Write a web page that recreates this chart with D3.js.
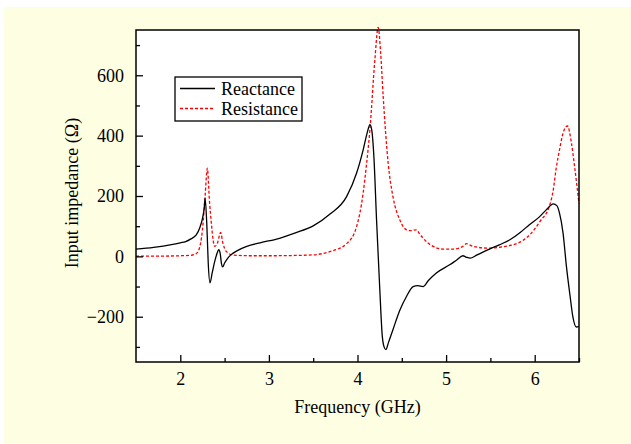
<!DOCTYPE html>
<html><head><meta charset="utf-8">
<script src="https://cdn.jsdelivr.net/npm/d3@7"></script>
<style>
html,body{margin:0;padding:0;background:#fff;}
svg{display:block;font-family:"Liberation Serif","Times New Roman",serif;}
</style></head>
<body><svg id="c" width="631" height="444"></svg>
<script>
// Reactance (black, solid): [frequency GHz, ohms]
const reactanceFreq = [1.5,1.7,1.9,2.0,2.06,2.12,2.18,2.22,2.25,2.27,2.28,2.30,2.315,2.335,2.36,2.39,2.415,2.433,2.45,2.465,2.478,2.50,2.53,2.57,2.65,2.75,2.9,3.12,3.3,3.5,3.69,3.877,3.99,4.064,4.11,4.14,4.16,4.185,4.215,4.25,4.28,4.30,4.32,4.35,4.40,4.48,4.553,4.628,4.68,4.74,4.80,4.89,5.04,5.12,5.19,5.23,5.27,5.35,5.49,5.60,5.72,5.84,5.94,6.05,6.13,6.21,6.25,6.28,6.32,6.358,6.40,6.43,6.47,6.5];
const reactanceVal  = [24,30,39,45,49,58,71,95,125,160,193,100,-20,-88,-55,-15,10,22,10,-25,-35,-22,-8,5,20,33,45,60,78,101,140,198,276,353,410,436,420,330,121,-100,-265,-300,-309,-285,-243,-177,-133,-100,-97,-100,-80,-55,-28,-12,2,-3,-6,5,24,38,55,80,105,130,154,174,168,143,77,-33,-133,-199,-234,-232];
// Resistance (red, dashed)
const resistanceFreq = [1.5,1.8,2.0,2.1,2.18,2.21,2.25,2.28,2.305,2.33,2.354,2.37,2.39,2.42,2.455,2.48,2.52,2.6,2.8,3.0,3.3,3.5,3.69,3.877,3.99,4.064,4.10,4.14,4.196,4.233,4.26,4.29,4.346,4.40,4.477,4.553,4.60,4.666,4.70,4.74,4.854,4.966,5.08,5.19,5.23,5.305,5.49,5.60,5.72,5.84,5.94,6.06,6.17,6.21,6.24,6.28,6.32,6.37,6.415,6.45,6.5];
const resistanceVal  = [1,1,2,3,9,22,88,200,292,180,99,55,33,45,79,45,16,4,2,2,3,5,16,42,99,210,300,419,651,759,680,529,309,198,121,88,85,88,75,60,33,24,24,33,42,33,27,30,36,48,70,116,170,221,287,353,408,432,375,298,176];

const xTicks = [2,3,4,5,6];
const yTicks = [-200,0,200,400,600];
const seriesNames = ["Reactance","Resistance"];

const svg = d3.select("#c");
svg.append("rect").attr("x",4).attr("y",7).attr("width",627).attr("height",437).attr("fill","#FEFEE2");

const L=136,R=579,T=30,B=362;
const x = d3.scaleLinear().domain([1.5,6.5]).range([L,R]);
const y = d3.scaleLinear().domain([-350,750]).range([B,T]);

svg.append("rect").attr("x",L).attr("y",T).attr("width",R-L).attr("height",B-T).attr("fill","#fff");

const line = d3.line().x(d=>x(d[0])).y(d=>y(d[1])).curve(d3.curveMonotoneX);
const react = reactanceFreq.map((f,i)=>[f,reactanceVal[i]]);
const resist = resistanceFreq.map((f,i)=>[f,resistanceVal[i]]);

svg.append("path").datum(resist).attr("d",line).attr("fill","none").attr("stroke","#ff0000").attr("stroke-width",1.3).attr("stroke-dasharray","3,2");
svg.append("path").datum(react).attr("d",line).attr("fill","none").attr("stroke","#000").attr("stroke-width",1.3);

// frame
svg.append("rect").attr("x",L).attr("y",T).attr("width",R-L).attr("height",B-T).attr("fill","none").attr("stroke","#000").attr("stroke-width",1.5);

// axes with inward ticks
const xMinor = d3.range(2,6.51,0.5).filter(v=>!xTicks.includes(v));
const xAx = svg.append("g").attr("transform",`translate(0,${B})`);
xAx.call(d3.axisBottom(x).tickValues(xTicks).tickSizeInner(-7).tickSizeOuter(0).tickFormat(d3.format("d")));
xAx.append("g").call(d3.axisBottom(x).tickValues(xMinor).tickSizeInner(-4).tickSizeOuter(0).tickFormat(""));
xAx.selectAll(".domain").remove();
xAx.selectAll("text").attr("dy",null).attr("y",23).attr("font-size",18).attr("font-family","Liberation Serif, Times New Roman, serif").attr("fill","#000");
xAx.selectAll("line").attr("stroke","#000").attr("stroke-width",1.3);

const yMinor = d3.range(-300,751,100).filter(v=>!yTicks.includes(v));
const yAx = svg.append("g").attr("transform",`translate(${L},0)`);
yAx.call(d3.axisLeft(y).tickValues(yTicks).tickSizeInner(-7).tickSizeOuter(0).tickFormat(d=>d<0?"\u2212"+Math.abs(d):d));
yAx.append("g").call(d3.axisLeft(y).tickValues(yMinor).tickSizeInner(-4).tickSizeOuter(0).tickFormat(""));
yAx.selectAll(".domain").remove();
yAx.selectAll("text").attr("x",-12).attr("font-size",18).attr("font-family","Liberation Serif, Times New Roman, serif").attr("fill","#000");
yAx.selectAll("line").attr("stroke","#000").attr("stroke-width",1.3);

svg.append("text").attr("x",(L+R)/2).attr("y",413).attr("text-anchor","middle").attr("font-size",18).text("Frequency (GHz)");
svg.append("text").attr("transform","translate(78,193) rotate(-90)").attr("text-anchor","middle").attr("font-size",18).text("Input impedance (\u03A9)");

// legend
const lg = svg.append("g");
lg.append("rect").attr("x",175).attr("y",77).attr("width",127).attr("height",44).attr("fill","#fff").attr("stroke","#000").attr("stroke-width",1.3);
const styles=[{c:"#000",d:null},{c:"#ff0000",d:"3,2"}];
seriesNames.forEach((n,i)=>{
  const yy = 88.5 + i*20;
  lg.append("line").attr("x1",180).attr("x2",215).attr("y1",yy).attr("y2",yy).attr("stroke",styles[i].c).attr("stroke-width",1.3).attr("stroke-dasharray",styles[i].d);
  lg.append("text").attr("x",221).attr("y",yy+6).attr("font-size",18).text(n);
});
</script></body></html>
